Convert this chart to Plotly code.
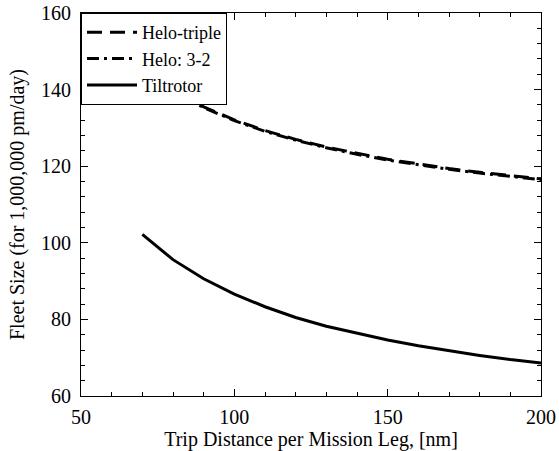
import plotly.graph_objects as go

distance = [70, 80, 90, 100, 110, 120, 130, 140, 150, 160, 170, 180, 190, 200]
helo_triple = [145.2, 139.7, 135.5, 132.1, 129.3, 127.0, 125.0, 123.3, 121.8, 120.6, 119.4, 118.4, 117.5, 116.7]
helo_32 = [145.0, 139.5, 135.3, 131.9, 129.1, 126.8, 124.8, 123.1, 121.6, 120.4, 119.2, 118.2, 117.3, 116.5]
tiltrotor = [102.2, 95.6, 90.6, 86.6, 83.3, 80.5, 78.2, 76.3, 74.6, 73.1, 71.8, 70.6, 69.5, 68.6]

FONT = "Liberation Serif, Times New Roman, serif"

fig = go.Figure()
fig.add_trace(go.Scatter(x=distance, y=helo_triple, mode="lines", name="Helo-triple",
                         line=dict(color="black", width=3, dash="15px,8px")))
fig.add_trace(go.Scatter(x=distance, y=helo_32, mode="lines", name="Helo: 3-2",
                         line=dict(color="black", width=3, dash="12px,5px,3px,5px")))
fig.add_trace(go.Scatter(x=distance, y=tiltrotor, mode="lines", name="Tiltrotor",
                         line=dict(color="black", width=3)))

axis_common = dict(showgrid=False, zeroline=False, showline=True, linecolor="black",
                   linewidth=1, mirror="ticks", ticks="inside", ticklen=7,
                   tickcolor="black", automargin=False,
                   tickfont=dict(family=FONT, size=20, color="black"))

fig.update_xaxes(range=[50, 200], dtick=50, tick0=50, ticklabelstandoff=3,
                 title=dict(text="Trip Distance per Mission Leg, [nm]",
                            font=dict(family=FONT, size=20, color="black"), standoff=12),
                 minor=dict(ticks="inside", dtick=10, ticklen=4, tickcolor="black"),
                 **axis_common)
fig.update_yaxes(range=[60, 160], dtick=20, tick0=60, ticklabelstandoff=5,
                 title=dict(text="Fleet Size (for 1,000,000 pm/day)",
                            font=dict(family=FONT, size=20, color="black"), standoff=11),
                 minor=dict(ticks="inside", dtick=4, ticklen=4, tickcolor="black"),
                 **axis_common)

fig.update_layout(
    width=559, height=451,
    margin=dict(l=81, r=18, t=13, b=55),
    plot_bgcolor="white", paper_bgcolor="white",
    font=dict(family=FONT, color="black"),
    legend=dict(x=0, y=1, xanchor="left", yanchor="top",
                bgcolor="white", bordercolor="black", borderwidth=1,
                font=dict(family=FONT, size=18, color="black"),
                itemwidth=50, tracegroupgap=0),
)

fig.write_html("out.html", config={"displayModeBar": False},
               post_script="document.body.style.margin='0px';")
